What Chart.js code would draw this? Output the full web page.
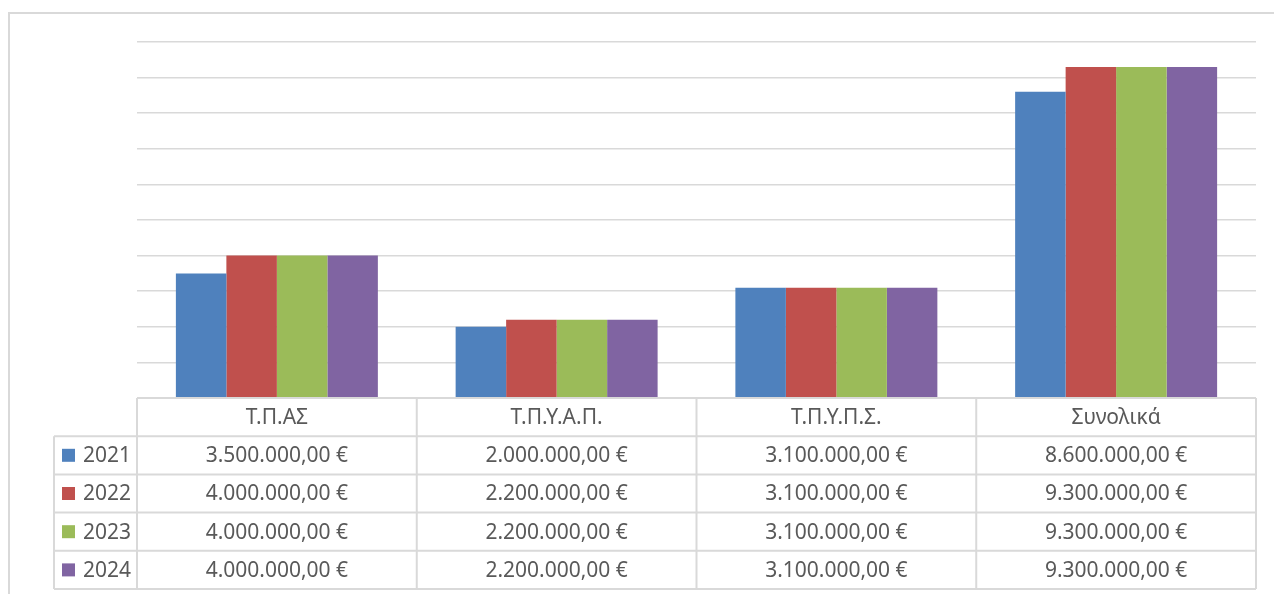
<!DOCTYPE html>
<html><head><meta charset="utf-8">
<script src="https://cdn.jsdelivr.net/npm/chart.js@4.4.1/dist/chart.umd.min.js"></script>
<style>
html,body{margin:0;padding:0;background:#fff;overflow:hidden;width:1274px;height:594px}
#frame{position:absolute;left:8px;top:12px;width:1320px;height:700px;border:2px solid #d9d9d9;box-sizing:border-box}
#wrap{position:absolute;left:0;top:0;width:1274px;height:594px}
</style></head><body>
<div id="frame"></div>
<div id="wrap"><canvas id="c" width="1274" height="594"></canvas></div>
<script>
const categories = ["Τ.Π.ΑΣ", "Τ.Π.Υ.Α.Π.", "Τ.Π.Υ.Π.Σ.", "Συνολικά"];
const years = ["2021", "2022", "2023", "2024"];
const values2021 = [3500000, 2000000, 3100000, 8600000];
const values2022 = [4000000, 2200000, 3100000, 9300000];
const values2023 = [4000000, 2200000, 3100000, 9300000];
const values2024 = [4000000, 2200000, 3100000, 9300000];
const seriesValues = [values2021, values2022, values2023, values2024];
const yTicksMax = 10000000;
const yTickStep = 1000000;

const seriesColors = ["#4F81BD", "#C0504D", "#9BBB59", "#8064A2"];
const FONT = '"Noto Sans", "DejaVu Sans", sans-serif';
const TEXT = '#595959';
const LINE = '#d9d9d9';

function fmtEuro(v) {
  const int = Math.floor(v).toString().replace(/\B(?=(\d{3})+(?!\d))/g, '.');
  const dec = Math.round((v - Math.floor(v)) * 100).toString().padStart(2, '0');
  return int + ',' + dec + ' €';
}

const tablePlugin = {
  id: 'dataTable',
  afterDraw(chart) {
    const ctx = chart.ctx, a = chart.chartArea;
    const n = categories.length;
    const colW = (a.right - a.left) / n;
    const top = a.bottom;
    const rowH = 38.2;
    const nRows = years.length + 1;
    const bottom = top + nRows * rowH;
    const legendLeft = 54;
    ctx.save();
    ctx.strokeStyle = LINE;
    ctx.lineWidth = 2;
    const line = (x1, y1, x2, y2) => { ctx.beginPath(); ctx.moveTo(x1, y1); ctx.lineTo(x2, y2); ctx.stroke(); };
    line(a.left, top, a.right, top);
    for (let r = 1; r <= nRows; r++) line(legendLeft, top + r * rowH, a.right, top + r * rowH);
    line(legendLeft, top + rowH, legendLeft, bottom);
    for (let i = 0; i <= n; i++) line(a.left + i * colW, top, a.left + i * colW, bottom);

    ctx.fillStyle = TEXT;
    ctx.font = '21px ' + FONT;
    ctx.textAlign = 'center';
    ctx.textBaseline = 'middle';
    for (let i = 0; i < n; i++) {
      const cx = chart.scales.x.getPixelForValue(i);
      ctx.fillText(categories[i], cx, top + rowH / 2 + 1);
      for (let s = 0; s < years.length; s++) {
        ctx.fillText(fmtEuro(seriesValues[s][i]), cx, top + (s + 1.5) * rowH + 1);
      }
    }
    ctx.textAlign = 'left';
    for (let s = 0; s < years.length; s++) {
      const cy = top + (s + 1.5) * rowH;
      ctx.fillStyle = seriesColors[s];
      ctx.fillRect(62, cy - 6.5, 13, 13);
      ctx.fillStyle = TEXT;
      ctx.fillText(years[s], 83, cy + 1);
    }
    ctx.restore();
  }
};

new Chart(document.getElementById('c'), {
  type: 'bar',
  data: {
    labels: categories,
    datasets: years.map((y, s) => ({
      label: y,
      data: seriesValues[s],
      backgroundColor: seriesColors[s],
      borderWidth: 0,
      categoryPercentage: 0.722,
      barPercentage: 1.0
    }))
  },
  options: {
    responsive: false,
    animation: false,
    layout: { padding: { left: 137, right: 18, top: 42, bottom: 196 } },
    plugins: { legend: { display: false }, tooltip: { enabled: false } },
    scales: {
      x: { display: false },
      y: {
        min: 0, max: yTicksMax,
        ticks: { display: false, stepSize: yTickStep },
        border: { display: false },
        grid: { color: LINE, lineWidth: 1.5, drawTicks: false }
      }
    }
  },
  plugins: [tablePlugin]
});
</script>
</body></html>
